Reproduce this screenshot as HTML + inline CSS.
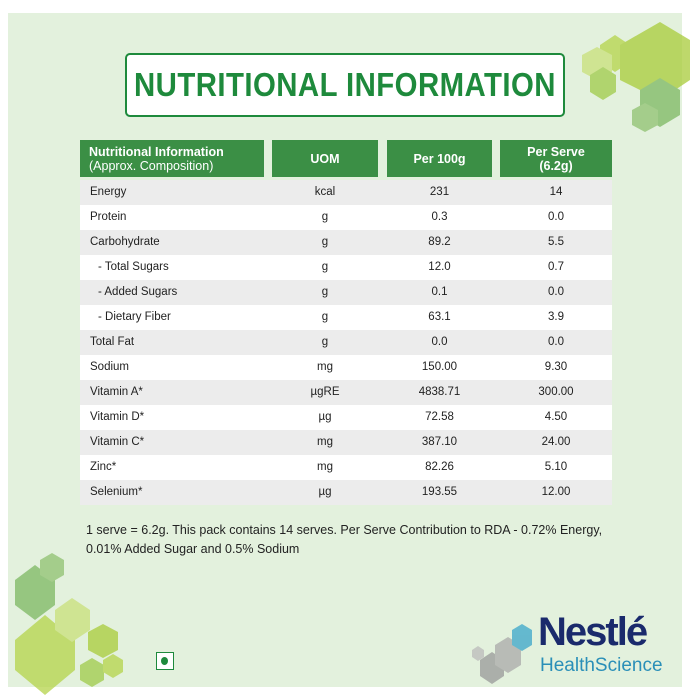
<!DOCTYPE html>
<html><head><style>
body{margin:0;width:690px;height:700px;background:#fff;position:relative;font-family:"Liberation Sans",sans-serif;overflow:hidden}
.panel{position:absolute;left:8px;top:13px;width:674px;height:674px;background:#e3f1dd}
.titlebox{position:absolute;left:125px;top:53px;width:436px;height:60px;border:2px solid #1e8a3c;border-radius:5px;background:#fff}
.title{position:absolute;left:45px;top:53px;width:600px;height:64px;color:#1e8a3c;font-weight:bold;font-size:33px;text-align:center;line-height:64px;white-space:nowrap;letter-spacing:0.5px;transform:scaleX(0.89)}
.h{position:absolute;top:140px;height:37px;background:#3b8f45;color:#fff;font-size:12.5px;font-weight:bold;display:flex;align-items:center;justify-content:center;text-align:center;line-height:14px}
.row{position:absolute;left:80px;width:532px;height:25px;font-size:11.5px;color:#222}
.row span{position:absolute;top:0;line-height:25px}
.c2{left:192px;width:106px;text-align:center}
.c3{left:307px;width:105px;text-align:center}
.c4{left:420px;width:112px;text-align:center}
.note{position:absolute;left:86px;top:521px;font-size:12.5px;line-height:19px;color:#222}
</style></head><body>
<div class="panel"></div>
<svg style="position:absolute;left:0;top:0" width="690" height="700">
<g opacity="0.75">
<polygon points="600,45 615,35 630,45 630,62 615,72 600,62" fill="#b5d44a"/>
<polygon points="620,45 660,22 690,40 690,80 660,100 620,80" fill="#a9cc3a"/>
<polygon points="582,55 597,47 612,55 612,72 597,80 582,72" fill="#c9e07a"/>
<polygon points="590,75 603,67 616,75 616,92 603,100 590,92" fill="#9fcb4a"/>
<polygon points="640,90 660,78 680,90 680,115 660,127 640,115" fill="#7db862"/>
<polygon points="632,110 645,103 658,110 658,125 645,132 632,125" fill="#8fc170"/>
<polygon points="15,580 35,565 55,580 55,605 35,620 15,605" fill="#7db862"/>
<polygon points="40,560 52,553 64,560 64,575 52,582 40,575" fill="#8fc170"/>
<polygon points="15,640 45,615 75,640 75,670 45,695 15,670" fill="#b5d44a"/>
<polygon points="55,610 72,598 90,610 90,630 72,642 55,630" fill="#c9e07a"/>
<polygon points="88,632 103,624 118,632 118,650 103,658 88,650" fill="#a9cc3a"/>
<polygon points="80,665 92,658 104,665 104,680 92,687 80,680" fill="#9fcb4a"/>
<polygon points="103,660 113,654 123,660 123,672 113,678 103,672" fill="#b5d44a"/>
<polygon points="480,660 492,652 504,660 504,676 492,684 480,676" fill="#999"/>
<polygon points="495,645 508,637 521,645 521,665 508,673 495,665" fill="#aaa"/>
<polygon points="512,630 522,624 532,630 532,645 522,651 512,645" fill="#3aa6c9"/>
<polygon points="472,650 478,646 484,650 484,657 478,661 472,657" fill="#bbb"/>
</g>
</svg>
<div class="titlebox"></div>
<div class="title">NUTRITIONAL INFORMATION</div>
<div class="h" style="left:80px;width:184px;justify-content:flex-start;text-align:left;padding-left:9px;box-sizing:border-box"><div>Nutritional Information<br><span style="font-weight:normal">(Approx. Composition)</span></div></div>
<div class="h" style="left:272px;width:106px">UOM</div>
<div class="h" style="left:387px;width:105px">Per 100g</div>
<div class="h" style="left:500px;width:112px">Per Serve<br>(6.2g)</div>
<div class="row" style="top:180px;background:#ececec"><span style="left:10px">Energy</span><span class="c2">kcal</span><span class="c3">231</span><span class="c4">14</span></div>
<div class="row" style="top:205px;background:#fff"><span style="left:10px">Protein</span><span class="c2">g</span><span class="c3">0.3</span><span class="c4">0.0</span></div>
<div class="row" style="top:230px;background:#ececec"><span style="left:10px">Carbohydrate</span><span class="c2">g</span><span class="c3">89.2</span><span class="c4">5.5</span></div>
<div class="row" style="top:255px;background:#fff"><span style="left:18px">- Total Sugars</span><span class="c2">g</span><span class="c3">12.0</span><span class="c4">0.7</span></div>
<div class="row" style="top:280px;background:#ececec"><span style="left:18px">- Added Sugars</span><span class="c2">g</span><span class="c3">0.1</span><span class="c4">0.0</span></div>
<div class="row" style="top:305px;background:#fff"><span style="left:18px">- Dietary Fiber</span><span class="c2">g</span><span class="c3">63.1</span><span class="c4">3.9</span></div>
<div class="row" style="top:330px;background:#ececec"><span style="left:10px">Total Fat</span><span class="c2">g</span><span class="c3">0.0</span><span class="c4">0.0</span></div>
<div class="row" style="top:355px;background:#fff"><span style="left:10px">Sodium</span><span class="c2">mg</span><span class="c3">150.00</span><span class="c4">9.30</span></div>
<div class="row" style="top:380px;background:#ececec"><span style="left:10px">Vitamin A*</span><span class="c2">µgRE</span><span class="c3">4838.71</span><span class="c4">300.00</span></div>
<div class="row" style="top:405px;background:#fff"><span style="left:10px">Vitamin D*</span><span class="c2">µg</span><span class="c3">72.58</span><span class="c4">4.50</span></div>
<div class="row" style="top:430px;background:#ececec"><span style="left:10px">Vitamin C*</span><span class="c2">mg</span><span class="c3">387.10</span><span class="c4">24.00</span></div>
<div class="row" style="top:455px;background:#fff"><span style="left:10px">Zinc*</span><span class="c2">mg</span><span class="c3">82.26</span><span class="c4">5.10</span></div>
<div class="row" style="top:480px;background:#ececec"><span style="left:10px">Selenium*</span><span class="c2">µg</span><span class="c3">193.55</span><span class="c4">12.00</span></div>
<div class="note">1 serve = 6.2g. This pack contains 14 serves. Per Serve Contribution to RDA - 0.72% Energy,<br>0.01% Added Sugar and 0.5% Sodium</div>
<div style="position:absolute;left:156px;top:652px;width:18px;height:18px;border:1.5px solid #1e8a3c;background:#fff;box-sizing:border-box"><div style="position:absolute;left:4px;top:4px;width:7px;height:8px;border-radius:50%;background:#1e8a3c"></div></div>
<div style="position:absolute;left:538px;top:610px;font-size:40px;font-weight:bold;color:#1a2a6c;letter-spacing:-2px;line-height:44px">Nestlé</div>
<div style="position:absolute;left:540px;top:655px;font-size:19px;color:#2a8fb8;line-height:22px">HealthScience</div>
</body></html>
